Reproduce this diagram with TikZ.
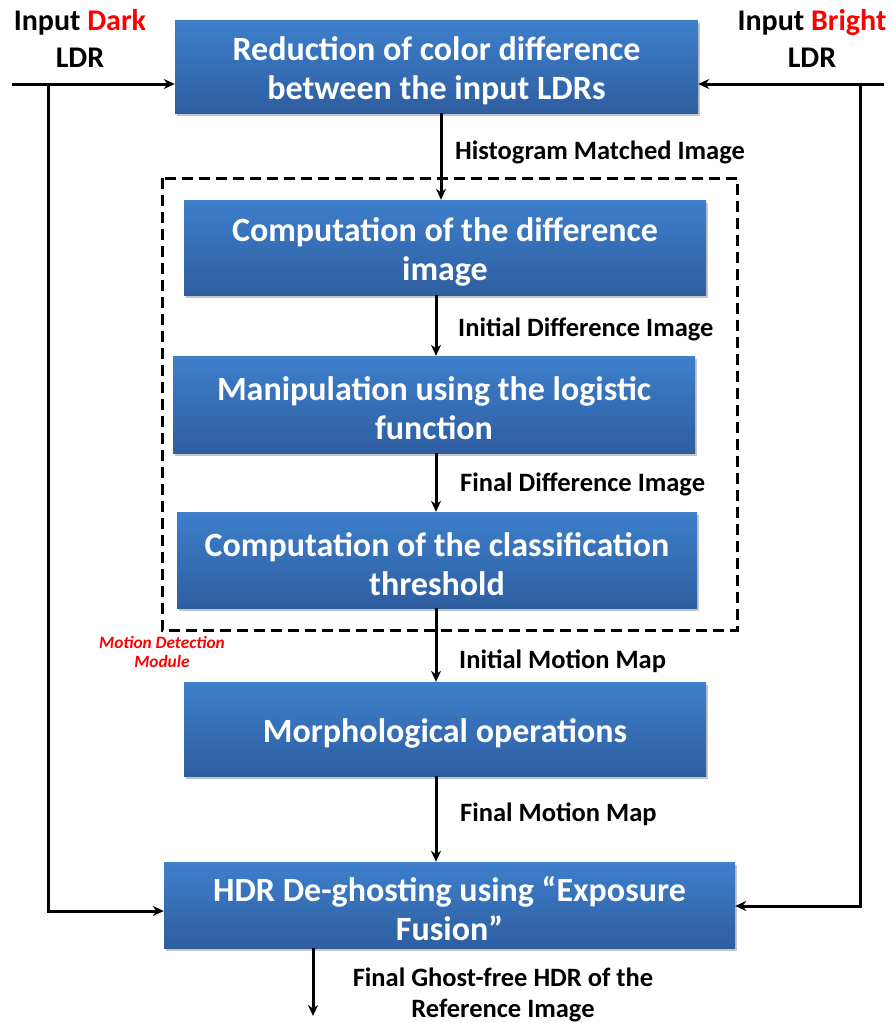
\documentclass[tikz,border=0pt]{standalone}
\usepackage{fontspec}
\setmainfont{Carlito}
\usetikzlibrary{arrows.meta,shadows}
\definecolor{boxtop}{RGB}{62,127,203}
\definecolor{boxbot}{RGB}{46,94,160}
\definecolor{lblred}{RGB}{255,0,0}
% taller first line so the box text sits a little lower
\newcommand\tallstrut{\rule{0pt}{32pt}}
\tikzset{
  stepbox/.style={rectangle, inner sep=0pt, top color=boxtop, bottom color=boxbot,
    draw=none, text=white, align=center,
    font=\fontsize{34}{39}\selectfont\bfseries,
    drop shadow={shadow xshift=1.5pt, shadow yshift=-2.5pt, fill=black!45, opacity=0.5}},
  flow/.style={line width=3pt, -{Stealth[length=11pt,width=10pt]}},
  plain/.style={line width=3pt},
  lbl/.style={font=\fontsize{26.5}{31}\selectfont\bfseries, anchor=west, inner sep=0pt},
  inlbl/.style={font=\fontsize{30}{37}\selectfont\bfseries, align=center, inner sep=0pt},
}
\begin{document}
\begin{tikzpicture}[x=1pt,y=-1pt]
\useasboundingbox (0,0) rectangle (894,1023);

% motion detection module frame
\draw[line width=3pt, dash pattern=on 11pt off 6pt] (162,178) rectangle (737,630);
\node[font=\fontsize{17.3}{19}\selectfont\bfseries\itshape, text=lblred, align=center, inner sep=0pt]
  (mdm) at (162,652) {Motion Detection\\Module};

% processing steps
\node[stepbox, minimum width=523pt, minimum height=93pt] (reduce) at (436.5,66.5)
  {\tallstrut Reduction of color difference\\between the input LDRs};
\node[stepbox, minimum width=522pt, minimum height=95pt] (diff) at (445,247.5)
  {\tallstrut Computation of the difference\\image};
\node[stepbox, minimum width=522pt, minimum height=97pt] (logit) at (434,404.5)
  {\tallstrut Manipulation using the logistic\\function};
\node[stepbox, minimum width=520pt, minimum height=96pt] (thresh) at (437,560)
  {\tallstrut Computation of the classification\\threshold};
\node[stepbox, minimum width=522pt, minimum height=94pt] (morph) at (445,729)
  {\tallstrut Morphological operations};
\node[stepbox, minimum width=571pt, minimum height=86pt] (fuse) at (449.5,905)
  {\tallstrut HDR De-ghosting using \char"201C Exposure\\Fusion\char"201D};

% inputs
\node[inlbl] (dark) at (80,38) {Input \textcolor{lblred}{Dark}\\LDR};
\node[inlbl] (bright) at (812,38) {Input \textcolor{lblred}{Bright}\\LDR};
\coordinate (darkin) at (12,84);
\coordinate (brightin) at (884,84);
\coordinate (darkdrop) at (48,84);
\coordinate (brightdrop) at (860,84);
\coordinate (darkturn) at (48,911);
\coordinate (brightturn) at (860,906);
\coordinate (out) at (313,1016);

\draw[flow] (darkin) -- (darkin -| reduce.west);
\draw[flow] (brightin) -- (brightin -| reduce.east);
\draw[plain] (darkdrop) -- (darkturn);
\draw[flow] ([xshift=-1.5pt]darkturn) -- (darkturn -| fuse.west);
\draw[plain] (brightdrop) -- (brightturn);
\draw[flow] ([xshift=1.5pt]brightturn) -- (brightturn -| fuse.east);

% flow between steps
\draw[flow] (441,0 |- reduce.south) -- (441,0 |- diff.north);
\draw[flow] (436,0 |- diff.south) -- (436,0 |- logit.north);
\draw[flow] (436,0 |- logit.south) -- (436,0 |- thresh.north);
\draw[flow] (436,0 |- thresh.south) -- (436,0 |- morph.north);
\draw[flow] (436,0 |- morph.south) -- (436,0 |- fuse.north);
\draw[flow] (313,0 |- fuse.south) -- (out);

% connector labels
\node[lbl] (l1) at (455,152) {Histogram Matched Image};
\node[lbl] (l2) at (458,329) {Initial Difference Image};
\node[lbl] (l3) at (460,484) {Final Difference Image};
\node[lbl] (l4) at (459,661) {Initial Motion Map};
\node[lbl] (l5) at (460,814) {Final Motion Map};
\node[lbl, anchor=center, align=center] (l6) at (503,995) {Final Ghost-free HDR of the\\Reference Image};
\end{tikzpicture}
\end{document}
